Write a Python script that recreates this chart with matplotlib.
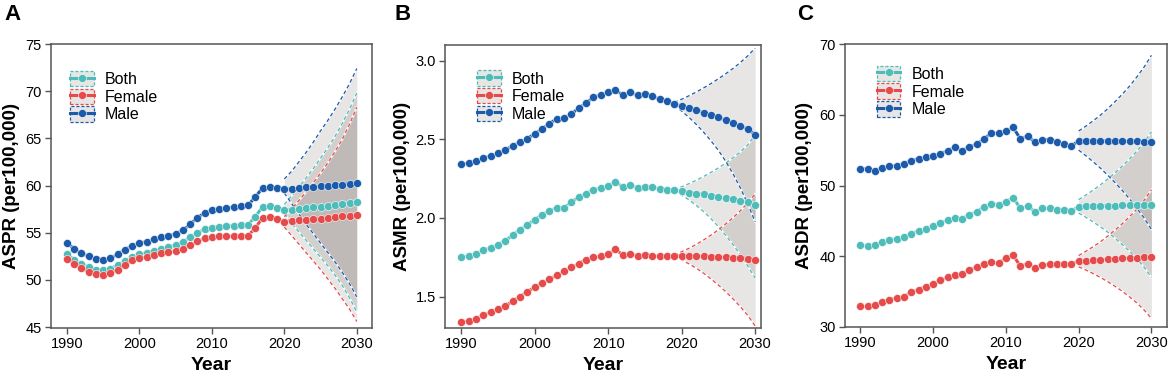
import numpy as np
import matplotlib.pyplot as plt
from matplotlib.patches import Patch
from matplotlib.lines import Line2D

plt.rcParams['font.family'] = ['Liberation Sans', 'DejaVu Sans']

years = np.arange(1990, 2031)
groups = ['Both', 'Female', 'Male']
colors = {'Both': '#4ebcb8', 'Female': '#e64b4b', 'Male': '#1c5baa'}

# ---- A: ASPR ----
aspr_both = [52.7, 52.15, 51.7, 51.35, 51.1, 51.0, 51.2, 51.55, 52.0, 52.45,
             52.7, 52.9, 53.1, 53.3, 53.5, 53.7, 54.0, 54.5, 55.0, 55.35,
             55.55, 55.65, 55.7, 55.75, 55.8, 55.85, 56.7, 57.75, 57.8, 57.65,
             57.4, 57.45, 57.5, 57.6, 57.7, 57.75, 57.85, 57.95, 58.05, 58.15, 58.3]
aspr_female = [52.25, 51.7, 51.25, 50.85, 50.6, 50.5, 50.75, 51.1, 51.6, 52.1,
               52.3, 52.4, 52.6, 52.8, 52.95, 53.1, 53.3, 53.7, 54.1, 54.4,
               54.55, 54.6, 54.6, 54.65, 54.65, 54.7, 55.5, 56.6, 56.7, 56.5,
               56.15, 56.25, 56.3, 56.35, 56.45, 56.5, 56.6, 56.65, 56.75, 56.8, 56.9]
aspr_male = [53.9, 53.3, 52.8, 52.5, 52.25, 52.15, 52.3, 52.7, 53.2, 53.6,
             53.9, 54.05, 54.3, 54.5, 54.65, 54.9, 55.25, 55.9, 56.6, 57.1,
             57.4, 57.55, 57.65, 57.7, 57.8, 57.9, 58.8, 59.75, 59.85, 59.75,
             59.6, 59.65, 59.7, 59.8, 59.85, 59.9, 59.95, 60.05, 60.1, 60.2, 60.3]
aspr_fc_years = np.arange(2020, 2031)
aspr_lo = {'Both': [57.0, 56.0, 55.1, 54.2, 53.3, 52.4, 51.5, 50.5, 49.4, 48.1, 46.6],
           'Female': [55.6, 54.7, 53.8, 52.9, 52.0, 51.1, 50.1, 49.1, 48.0, 46.9, 45.6],
           'Male': [59.2, 58.1, 57.0, 55.9, 54.9, 53.9, 52.9, 51.9, 50.8, 49.6, 48.2]}
aspr_hi = {'Both': [58.0, 58.9, 59.8, 60.8, 61.8, 62.9, 64.0, 65.2, 66.6, 68.1, 69.8],
           'Female': [56.7, 57.5, 58.4, 59.3, 60.3, 61.3, 62.4, 63.6, 64.9, 66.5, 68.3],
           'Male': [60.7, 61.5, 62.5, 63.5, 64.6, 65.8, 66.9, 68.1, 69.4, 70.8, 72.4]}

# ---- B: ASMR ----
asmr_both = [1.75, 1.76, 1.77, 1.795, 1.81, 1.83, 1.855, 1.89, 1.925, 1.955,
             1.99, 2.02, 2.045, 2.065, 2.065, 2.10, 2.135, 2.155, 2.18, 2.19,
             2.205, 2.23, 2.195, 2.21, 2.19, 2.20, 2.195, 2.185, 2.18, 2.175,
             2.17, 2.16, 2.155, 2.15, 2.14, 2.135, 2.125, 2.12, 2.11, 2.10, 2.08]
asmr_female = [1.335, 1.345, 1.36, 1.38, 1.40, 1.42, 1.44, 1.47, 1.50, 1.53,
               1.56, 1.585, 1.61, 1.635, 1.66, 1.685, 1.71, 1.735, 1.75, 1.755,
               1.77, 1.80, 1.765, 1.77, 1.76, 1.765, 1.76, 1.755, 1.755, 1.76,
               1.76, 1.76, 1.758, 1.756, 1.754, 1.752, 1.75, 1.748, 1.745, 1.742, 1.735]
asmr_male = [2.34, 2.35, 2.36, 2.38, 2.395, 2.41, 2.43, 2.46, 2.48, 2.505,
             2.535, 2.565, 2.60, 2.63, 2.635, 2.66, 2.70, 2.73, 2.77, 2.78,
             2.80, 2.815, 2.78, 2.80, 2.78, 2.79, 2.775, 2.755, 2.745, 2.725,
             2.71, 2.70, 2.685, 2.67, 2.655, 2.64, 2.62, 2.605, 2.585, 2.565, 2.53]
asmr_fc_years = np.arange(2019, 2031)
asmr_lo = {'Both': [2.17, 2.145, 2.115, 2.08, 2.04, 1.995, 1.945, 1.89, 1.83, 1.765, 1.695, 1.617],
           'Female': [1.755, 1.733, 1.708, 1.68, 1.648, 1.612, 1.573, 1.531, 1.485, 1.435, 1.38, 1.313],
           'Male': [2.715, 2.68, 2.64, 2.595, 2.545, 2.49, 2.43, 2.36, 2.28, 2.19, 2.09, 1.975]}
asmr_hi = {'Both': [2.18, 2.198, 2.218, 2.24, 2.264, 2.29, 2.318, 2.349, 2.383, 2.42, 2.465, 2.528],
           'Female': [1.765, 1.785, 1.807, 1.832, 1.86, 1.891, 1.925, 1.962, 2.002, 2.046, 2.095, 2.153],
           'Male': [2.735, 2.755, 2.777, 2.801, 2.827, 2.855, 2.885, 2.917, 2.951, 2.989, 3.031, 3.08]}

# ---- C: ASDR ----
asdr_both = [41.55, 41.5, 41.55, 42.0, 42.35, 42.45, 42.7, 43.2, 43.6, 43.9,
             44.3, 44.7, 45.1, 45.4, 45.3, 45.9, 46.3, 47.0, 47.45, 47.3,
             47.7, 48.3, 46.75, 47.1, 46.3, 46.75, 46.8, 46.6, 46.6, 46.4,
             47.0, 47.05, 47.1, 47.1, 47.15, 47.15, 47.2, 47.2, 47.25, 47.25, 47.3]
asdr_female = [32.9, 32.9, 33.05, 33.5, 33.85, 34.1, 34.3, 34.9, 35.3, 35.7,
               36.1, 36.6, 37.0, 37.3, 37.55, 38.0, 38.5, 38.9, 39.15, 39.05,
               39.7, 40.15, 38.6, 38.95, 38.4, 38.8, 38.85, 38.95, 38.95, 38.95,
               39.3, 39.35, 39.45, 39.5, 39.55, 39.6, 39.7, 39.75, 39.8, 39.85, 39.9]
asdr_male = [52.4, 52.3, 52.1, 52.5, 52.7, 52.8, 53.1, 53.5, 53.8, 54.0,
             54.2, 54.5, 54.9, 55.4, 54.9, 55.5, 55.8, 56.6, 57.4, 57.35,
             57.7, 58.2, 56.6, 57.0, 56.1, 56.5, 56.5, 56.1, 55.9, 55.6,
             56.3, 56.3, 56.3, 56.3, 56.3, 56.3, 56.3, 56.25, 56.25, 56.2, 56.2]
asdr_fc_years = np.arange(2020, 2031)
asdr_lo = {'Both': [46.1, 45.5, 44.85, 44.15, 43.4, 42.55, 41.65, 40.7, 39.65, 38.45, 37.0],
           'Female': [38.5, 38.05, 37.55, 37.0, 36.4, 35.75, 35.05, 34.25, 33.4, 32.4, 31.2],
           'Male': [55.0, 54.2, 53.35, 52.45, 51.45, 50.4, 49.3, 48.1, 46.8, 45.4, 43.8]}
asdr_hi = {'Both': [48.0, 48.65, 49.35, 50.1, 50.9, 51.8, 52.75, 53.75, 54.85, 56.1, 57.6],
           'Female': [40.1, 40.7, 41.35, 42.05, 42.85, 43.7, 44.6, 45.6, 46.65, 47.9, 49.4],
           'Male': [57.7, 58.4, 59.15, 59.95, 60.85, 61.85, 62.9, 64.05, 65.35, 66.75, 68.4]}

ribbon_fc = '#1a0a00'
ribbon_alpha = 0.1
spine_col = '#555555'


def panel(ax, series, fc_years, lo, hi, ylabel, ylim, yticks, yfmt, xlim, leg_xy, ylab_x):
    for g in groups:
        ax.fill_between(fc_years, lo[g], hi[g], color=ribbon_fc, alpha=ribbon_alpha,
                        lw=0, zorder=1)
    for g in groups:
        for b in (lo[g], hi[g]):
            ax.plot(fc_years, b, color='white', lw=1.6, alpha=0.8, zorder=2)
            ax.plot(fc_years, b, color=colors[g], lw=0.9, ls=(0, (3, 2.2)), zorder=3)
    for g in groups:
        ax.plot(years, series[g], color=colors[g], lw=2.2, marker='o', ms=5.8,
                mec='white', mew=0.4, zorder=4)

    ax.set_xlim(*xlim)
    ax.set_ylim(*ylim)
    ax.set_xticks([1990, 2000, 2010, 2020, 2030])
    ax.set_yticks(yticks)
    ax.set_yticklabels([yfmt.format(v) for v in yticks])
    ax.tick_params(axis='both', direction='out', length=4, width=1, color=spine_col,
                   labelsize=10.5, labelcolor='black', pad=2.5)
    for s in ax.spines.values():
        s.set_color(spine_col)
        s.set_linewidth(1.1)
    ax.set_ylabel(ylabel, fontsize=13.5, fontweight='bold')
    ax.yaxis.set_label_coords(ylab_x, 0.5)
    ax.set_xlabel('Year', fontsize=14, fontweight='bold')
    ax.xaxis.set_label_coords(0.5, -0.102)

    handles = []
    for g in groups:
        p = Patch(facecolor='#e8e6e4', edgecolor=colors[g], linestyle=(0, (2.5, 1.5)), lw=0.9)
        l = Line2D([], [], color=colors[g], lw=2.2, marker='o', ms=5.8, mec='white', mew=0.4)
        handles.append((p, l))
    ax.legend(handles, groups, loc='upper left', bbox_to_anchor=leg_xy, frameon=False,
              fontsize=11.5, borderpad=0, borderaxespad=0, labelspacing=0.1,
              handlelength=1.5, handleheight=1.1, handletextpad=0.7)


fig = plt.figure(figsize=(11.7, 3.76), dpi=100)
axA = fig.add_axes([51 / 1170, 48 / 376, 321 / 1170, 284 / 376])
axB = fig.add_axes([445 / 1170, 48 / 376, 316 / 1170, 283 / 376])
axC = fig.add_axes([845 / 1170, 49 / 376, 321.7 / 1170, 283 / 376])

panel(axA, {'Both': aspr_both, 'Female': aspr_female, 'Male': aspr_male},
      aspr_fc_years, aspr_lo, aspr_hi, 'ASPR (per100,000)', (44.9, 75),
      [45, 50, 55, 60, 65, 70, 75], '{:.0f}', (1987.8, 2032.1), (0.059, 0.905), -0.097)
panel(axB, {'Both': asmr_both, 'Female': asmr_female, 'Male': asmr_male},
      asmr_fc_years, asmr_lo, asmr_hi, 'ASMR (per100,000)', (1.30, 3.10),
      [1.5, 2.0, 2.5, 3.0], '{:.1f}', (1987.8, 2030.8), (0.101, 0.91), -0.108)
panel(axC, {'Both': asdr_both, 'Female': asdr_female, 'Male': asdr_male},
      asdr_fc_years, asdr_lo, asdr_hi, 'ASDR (per100,000)', (30, 70),
      [30, 40, 50, 60, 70], '{:.0f}', (1987.9, 2032.1), (0.098, 0.923), -0.0995)

for x, lab in [(4, 'A'), (394, 'B'), (797, 'C')]:
    fig.text(x / 1170, 1 - 15 / 376, lab, fontsize=16, fontweight='bold', va='center', ha='left')

fig.savefig('out.png', dpi=100)
